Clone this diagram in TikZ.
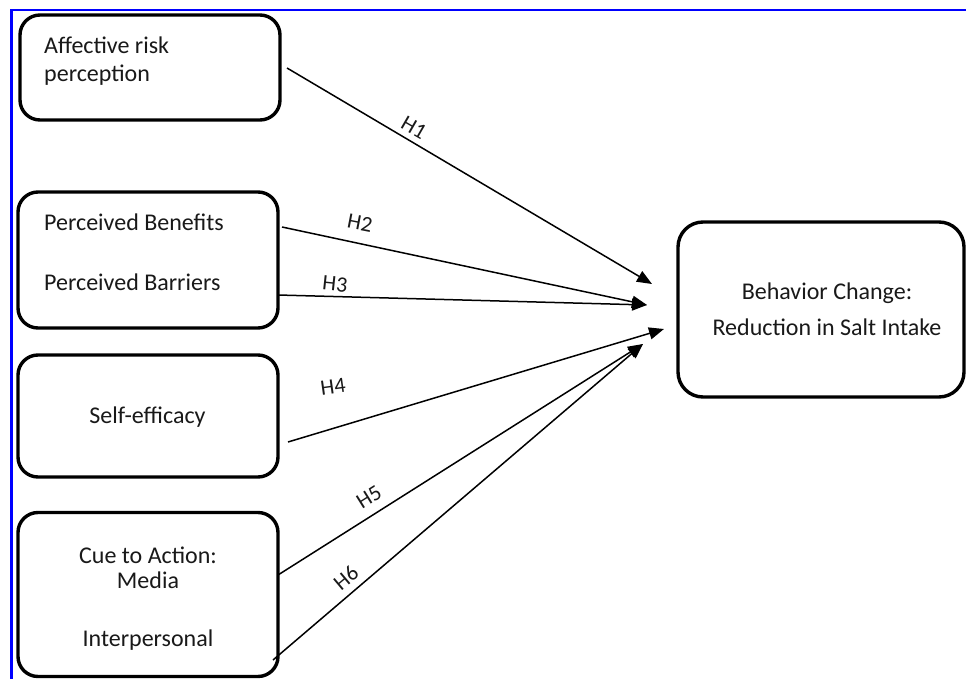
\documentclass[tikz,border=0pt]{standalone}
\usepackage{fontspec}
\setmainfont{Carlito}
\usetikzlibrary{arrows.meta}
\begin{document}
\begin{tikzpicture}[x=1pt,y=-1pt,
  box/.style={draw=black,line width=3.4pt,rounded corners=20pt,inner sep=0pt},
  txt/.style={font=\fontsize{24}{28}\selectfont,inner sep=0pt,text=black!90},
  hyp/.style={-{Triangle[length=15pt,width=12pt]},line width=1.5pt},
  hlab/.style={font=\fontsize{22}{26}\selectfont,inner sep=0pt,text=black!90}]
\useasboundingbox (0,0) rectangle (966,679);
\fill[white] (0,0) rectangle (966,679);
\draw[blue,line width=2.5pt] (11.5,679) -- (11.5,10) -- (966,10);
% boxes
\node[box,minimum width=260pt,minimum height=105pt] (b1) at (150,67.5) {};
\node[box,minimum width=260pt,minimum height=136pt] (b2) at (148,260) {};
\node[box,minimum width=260pt,minimum height=122pt] (b3) at (148,416) {};
\node[box,minimum width=260pt,minimum height=164pt] (b4) at (148,594.5) {};
\node[box,minimum width=286pt,minimum height=175pt,rounded corners=25pt] (b5) at (821,309.5) {};
% texts
\node[txt,anchor=west] (t1a) at (44,45) {Affective risk};
\node[txt,anchor=west] (t1b) at (44,75) {perception};
\node[txt,anchor=west] (t2a) at (44,222) {Perceived Benefits};
\node[txt,anchor=west] (t2b) at (44,282) {Perceived Barriers};
\node[txt] (t3) at (147.5,417) {Self-efficacy};
\node[txt] (t4a) at (148,555) {Cue to Action:};
\node[txt] (t4b) at (148,580) {Media};
\node[txt] (t4c) at (148,640) {Interpersonal};
\node[txt] (t5a) at (827,293) {Behavior Change:};
\node[txt] (t5b) at (827,327) {Reduction in Salt Intake};
% connector ends
\coordinate (s1) at (287,68);
\coordinate (s2) at (282,227);
\coordinate (s3) at (278,295);
\coordinate (s4) at (288,442);
\coordinate (s5) at (278,575);
\coordinate (s6) at (273,660);
\coordinate (e1) at (652,284);
\coordinate (e2) at (647,305);
\coordinate (e3) at (647,305);
\coordinate (e4) at (664,329);
\coordinate (e5) at (643,344);
\coordinate (e6) at (643,344);
\draw[hyp] (s1) -- (e1);
\draw[hyp] (s2) -- (e2);
\draw[hyp] (s3) -- (e3);
\draw[hyp] (s4) -- (e4);
\draw[hyp] (s5) -- (e5);
\draw[hyp] (s6) -- (e6);
% labels
\node[hlab,rotate=-30] (h1) at (414,128) {H1};
\node[hlab,rotate=-11] (h2) at (360,223) {H2};
\node[hlab,rotate=-6] (h3) at (335,284) {H3};
\node[hlab,rotate=8] (h4) at (333,387) {H4};
\node[hlab,rotate=32] (h5) at (369,497) {H5};
\node[hlab,rotate=40] (h6) at (346,578) {H6};
\end{tikzpicture}
\end{document}
